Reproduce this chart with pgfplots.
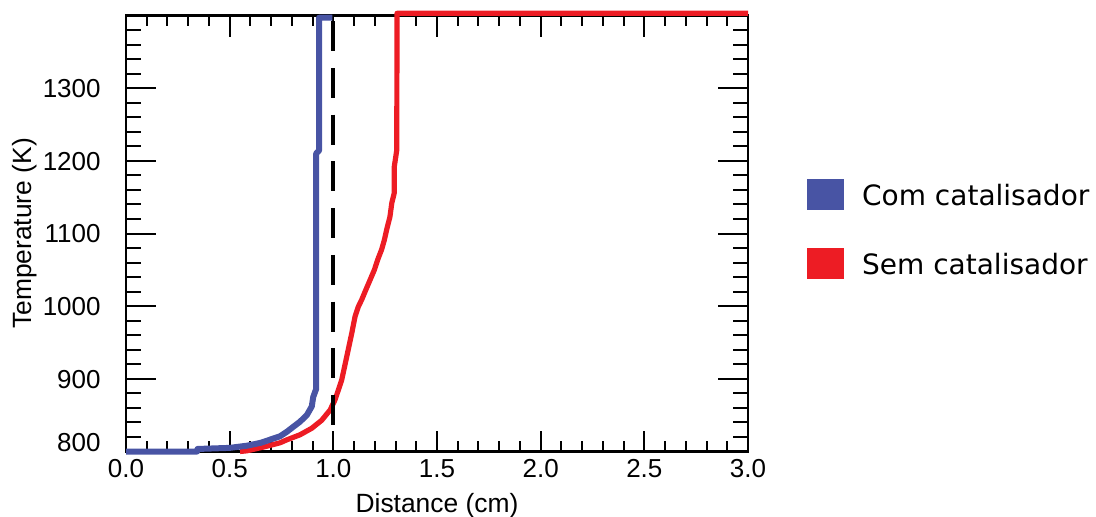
\documentclass[border=0pt]{standalone}
\usepackage{fontspec}
\setmainfont{Liberation Sans}
\newfontfamily\legendfont{DejaVu Sans}
\usepackage{pgfplots}
\pgfplotsset{compat=1.18}
\definecolor{cblue}{RGB}{72,84,164}
\definecolor{cred}{RGB}{237,28,36}
\begin{document}
\begin{tikzpicture}
\useasboundingbox (0,0) rectangle (548pt,258pt);
\pgfplotsset{common/.style={
  at={(63pt,32.25pt)}, anchor=south west, scale only axis,
  width=311pt, height=218pt,
  xmin=0, xmax=3, ymin=800, ymax=1400,
  axis line style={line width=1.25pt},
  tick align=inside,
  every tick/.style={black, line width=1pt},
  /pgf/number format/assume math mode=true,
  tick label style={font=\fontsize{13}{15}\selectfont},
  clip=false,
}}
% axis carrying the y ticks and labels
\begin{axis}[common,
  xtick=\empty,
  ytick={800,900,1000,1100,1200,1300},
  yticklabels={\raisebox{4.5pt}{800},900,1000,1100,1200,1300},
  minor ytick={820,840,860,880,920,940,960,980,1020,1040,1060,1080,1120,1140,1160,1180,1220,1240,1260,1280,1320,1340,1360,1380},
  major tick length=15pt, minor tick length=7.5pt,
  yticklabel style={anchor=base east, inner sep=0pt, xshift=-12.5pt, yshift=-4.65pt},
  ylabel={Temperature (K)},
  every axis y label/.style={at={(rel axis cs:-0.15113,0.5)}, rotate=90, anchor=base, font=\fontsize{13.2}{15}\selectfont},
]
\end{axis}
% axis carrying x ticks, data and legend
\begin{axis}[common,
  ytick=\empty,
  xtick={0,0.5,1,1.5,2,2.5,3},
  xticklabels={0.0,0.5,1.0,1.5,2.0,2.5,3.0},
  minor x tick num=4,
  major tick length=10.5pt, minor tick length=5.25pt,
  xticklabel style={anchor=base, inner sep=0pt, yshift=-13pt},
  xlabel={Distance (cm)},
  every axis x label/.style={at={(rel axis cs:0.5,0)}, anchor=base, yshift=-30.25pt, font=\fontsize{13.2}{15}\selectfont},
  reverse legend,
  legend cell align=left,
  legend style={at={(rel axis cs:1.0944,0.625)}, anchor=north west, draw=none, fill=none,
    inner sep=0pt, row sep=19pt, column sep=9pt,
    font=\legendfont\fontsize{14}{17}\selectfont, nodes={inner sep=0pt}},
  legend image code/.code={\fill[#1, draw=none] (0pt,-7.15pt) rectangle (18.5pt,8.35pt);},
]
\addplot[color=cred, line width=2.6pt, line join=round] coordinates {
(0.55,800) (0.584,801) (0.661,806) (0.743,812) (0.775,816) (0.839,823) (0.896,832)
(0.944,843) (0.984,857) (1.008,871) (1.040,898) (1.065,931) (1.089,963) (1.105,986)
(1.120,999) (1.137,1009) (1.156,1022) (1.177,1036) (1.198,1050) (1.214,1064)
(1.233,1078) (1.246,1091) (1.257,1105) (1.273,1123) (1.282,1142) (1.294,1156)
(1.294,1192) (1.306,1215) (1.307,1403) (3.0,1403)};
\addlegendentry{Sem catalisador}
\addplot[color=cblue, line width=3pt, line join=round] coordinates {
(0,800) (0.343,800) (0.345,803.5) (0.5,805) (0.584,808) (0.65,812) (0.743,821)
(0.775,827) (0.807,834) (0.839,841) (0.872,850) (0.896,862) (0.903,875) (0.917,886)
(0.917,1210) (0.931,1214) (0.931,1397) (0.995,1397)};
\addlegendentry{Com catalisador}
\addplot[black, line width=2pt, dash pattern=on 15pt off 8.35pt, forget plot] coordinates {(1,1392) (1,834)};
\end{axis}
\end{tikzpicture}
\end{document}
